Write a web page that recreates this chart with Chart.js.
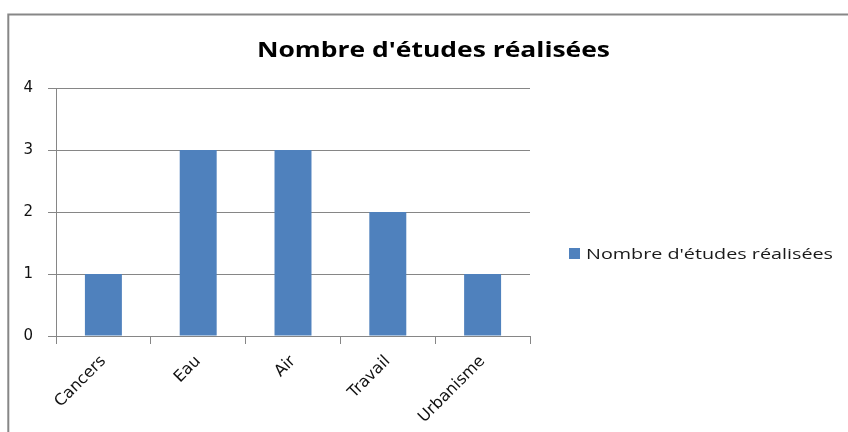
<!DOCTYPE html>
<html>
<head>
<meta charset="utf-8">
<script src="https://cdn.jsdelivr.net/npm/chart.js@4/dist/chart.umd.min.js"></script>
<style>
html,body{margin:0;padding:0;background:#fff;}
#wrap{width:848px;height:432px;position:relative;}
</style>
</head>
<body>
<div id="wrap"><canvas id="c" width="848" height="432"></canvas></div>
<script>
const categories = ['Cancers', 'Eau', 'Air', 'Travail', 'Urbanisme'];
const seriesName = "Nombre d'études réalisées";
const values = [1, 3, 3, 2, 1];
const yTicks = [0, 1, 2, 3, 4];
const chartTitle = "Nombre d'études réalisées";

const FONT = '"Open Sans", Lato, sans-serif';
const TICKFONT = '"DejaVu Sans", "Open Sans", sans-serif';
const BAR = '#4F81BD';
const GRID = '#868686';

function fitText(ctx, text, left, baseline, targetW) {
  const w = ctx.measureText(text).width;
  ctx.save();
  ctx.translate(left, baseline);
  ctx.scale(targetW / w, 1);
  ctx.textAlign = 'left';
  ctx.textBaseline = 'alphabetic';
  ctx.fillText(text, 0, 0);
  ctx.restore();
}

const decor = {
  id: 'decor',
  afterDraw(chart) {
    const ctx = chart.ctx;
    ctx.save();
    // outer border (cropped on right & bottom)
    ctx.strokeStyle = '#878787';
    ctx.lineWidth = 2;
    ctx.beginPath();
    ctx.moveTo(8.3, 440);
    ctx.lineTo(8.3, 14.5);
    ctx.lineTo(860, 14.5);
    ctx.stroke();
    // title
    ctx.fillStyle = '#000';
    ctx.font = 'bold 22px ' + FONT;
    fitText(ctx, chartTitle, 257, 57, 353);
    // legend
    const ds = chart.data.datasets[0];
    ctx.fillStyle = ds.backgroundColor;
    ctx.fillRect(569, 248, 11, 11);
    ctx.fillStyle = '#1a1a1a';
    ctx.font = '15px ' + FONT;
    fitText(ctx, ds.label, 586, 259, 247);
    ctx.restore();
  }
};

new Chart(document.getElementById('c'), {
  type: 'bar',
  data: {
    labels: categories,
    datasets: [{
      label: seriesName,
      data: values,
      backgroundColor: BAR,
      borderWidth: 0,
      barPercentage: 0.39,
      categoryPercentage: 1.0
    }]
  },
  options: {
    responsive: false,
    animation: false,
    devicePixelRatio: 1,
    layout: { padding: { left: 0, top: 88, right: 318, bottom: 0 } },
    plugins: {
      legend: { display: false },
      title: { display: false },
      tooltip: { enabled: false }
    },
    scales: {
      x: {
        afterFit(s) { s.height = 96; },
        grid: { display: true, drawOnChartArea: false, drawTicks: true, tickLength: 8, color: GRID, offset: true },
        border: { display: true, color: GRID, width: 1 },
        ticks: {
          color: '#111',
          font: { family: TICKFONT, size: 16 },
          maxRotation: 45, minRotation: 45,
          padding: 8,
          autoSkip: false
        }
      },
      y: {
        min: 0, max: 4,
        afterFit(s) { s.width = 56; },
        afterBuildTicks(s) { s.ticks = yTicks.map(v => ({ value: v })); },
        grid: { color: GRID, tickLength: 8, lineWidth: 1 },
        border: { display: true, color: GRID, width: 1 },
        ticks: {
          color: '#111',
          font: { family: TICKFONT, size: 15 },
          padding: 15,
          stepSize: 1
        }
      }
    }
  },
  plugins: [decor]
});
</script>
</body>
</html>
